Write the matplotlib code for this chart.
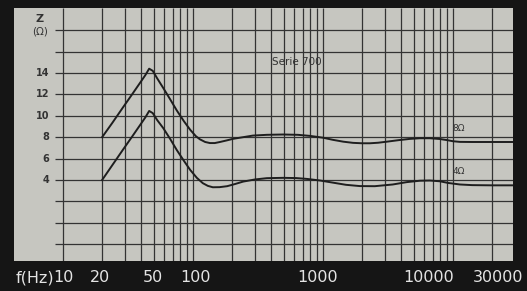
import matplotlib
matplotlib.use("Agg")
import matplotlib.pyplot as plt
import numpy as np

# ---- data ----
freq_8 = [20, 24, 29, 34, 39, 43, 46, 49, 53, 59, 67, 75, 85, 95, 105, 113, 124, 135,
          147, 161, 182, 204, 243, 289, 370, 492, 640, 794, 1000, 1193, 1430, 1699,
          2000, 2291, 2650, 3098, 3800, 4656, 5550, 6626, 7908, 8944, 10000, 11290,
          14000, 20000, 28900]
z_8 = [8.0, 9.35, 10.8, 12.0, 13.05, 13.8, 14.4, 14.2, 13.5, 12.6, 11.5, 10.5, 9.5,
       8.7, 8.1, 7.8, 7.55, 7.45, 7.45, 7.55, 7.7, 7.85, 8.0, 8.15, 8.22, 8.25, 8.22,
       8.12, 7.95, 7.75, 7.58, 7.47, 7.43, 7.43, 7.48, 7.58, 7.72, 7.84, 7.9, 7.9,
       7.83, 7.73, 7.62, 7.56, 7.55, 7.55, 7.55]

freq_4 = [20, 24, 29, 34, 39, 43, 46, 49, 53, 59, 67, 75, 85, 95, 107, 119, 130, 142,
          160, 183, 210, 243, 300, 370, 492, 620, 752, 950, 1193, 1500, 1920, 2500,
          3438, 4400, 5550, 6626, 7908, 9200, 11290, 14000, 20000, 28900]
z_4 = [4.0, 5.4, 6.85, 8.05, 9.1, 9.85, 10.45, 10.25, 9.6, 8.85, 7.8, 6.8, 5.8, 4.95,
       4.2, 3.7, 3.45, 3.32, 3.33, 3.42, 3.62, 3.85, 4.05, 4.17, 4.2, 4.18, 4.1,
       3.95, 3.75, 3.55, 3.43, 3.42, 3.58, 3.8, 3.93, 3.95, 3.88, 3.72, 3.58, 3.52,
       3.5, 3.5]

z_ticks = [4, 6, 8, 10, 12, 14]
z_grid = [18, 16, 14, 12, 10, 8, 6, 4, 2, 0, -2]
f_grid = ([10 * k for k in range(1, 10)] + [100 * k for k in range(1, 10)] +
          [1000 * k for k in range(1, 10)] + [10000, 20000])
f_labels = ["10", "20", "50", "100", "1000", "10000", "30000"]
f_label_pos = [10, 19.4, 49, 105, 914, 6430, 22000]

PAPER = "#c6c6c0"
INK = "#333333"

fig = plt.figure(figsize=(5.27, 2.91), dpi=100, facecolor="#151515")
ax = fig.add_axes([14 / 527, 30 / 291, 499 / 527, 253 / 291])
ax.set_facecolor(PAPER)
ax.set_xscale("log")
ax.set_xlim(4.2, 28900)
ax.set_ylim(-3.57, 20.07)
for s in ax.spines.values():
    s.set_visible(False)
ax.set_xticks([])
ax.set_yticks([])
ax.minorticks_off()

# grid
ax.hlines(z_grid, 8.7, 28900, color=INK, lw=0.9, zorder=1)
ax.vlines(f_grid, -3.57, 20.07, color=INK, lw=0.9, zorder=1)

# curves
ax.plot(freq_8, z_8, color="#1e1e1e", lw=1.4, zorder=3, solid_joinstyle="round")
ax.plot(freq_4, z_4, color="#1e1e1e", lw=1.4, zorder=3, solid_joinstyle="round")

# y labels
ytr = ax.get_yaxis_transform()
for z in z_ticks:
    ax.text(0.071, z, str(z), transform=ytr, ha="right", va="center",
            fontsize=7, color=INK, fontweight="bold")
ax.text(0.052, 19.0, "Z", transform=ytr, ha="center", va="center",
        fontsize=8, color=INK, fontweight="bold")
ax.text(0.052, 17.9, "(Ω)", transform=ytr, ha="center", va="center",
        fontsize=7.5, color=INK)

# annotations
ax.text(630, 15.0, "Serie 700", ha="center", va="center", fontsize=7.5,
        color=INK)
ax.text(11000, 8.85, "8Ω", ha="center", va="center", fontsize=6.5, color=INK)
ax.text(11000, 4.75, "4Ω", ha="center", va="center", fontsize=6.5, color=INK)

# x labels
xtr = ax.get_xaxis_transform()
for f, lab in zip(f_label_pos, f_labels):
    ax.text(f, -0.067, lab, transform=xtr, ha="center", va="center",
            fontsize=11.5, color="#e4e4e4", clip_on=False)
ax.text(8.55, -0.067, "f(Hz)", transform=xtr, ha="right", va="center",
        fontsize=11.5, color="#e4e4e4", clip_on=False)

fig.savefig("out.png", dpi=100, facecolor=fig.get_facecolor())
